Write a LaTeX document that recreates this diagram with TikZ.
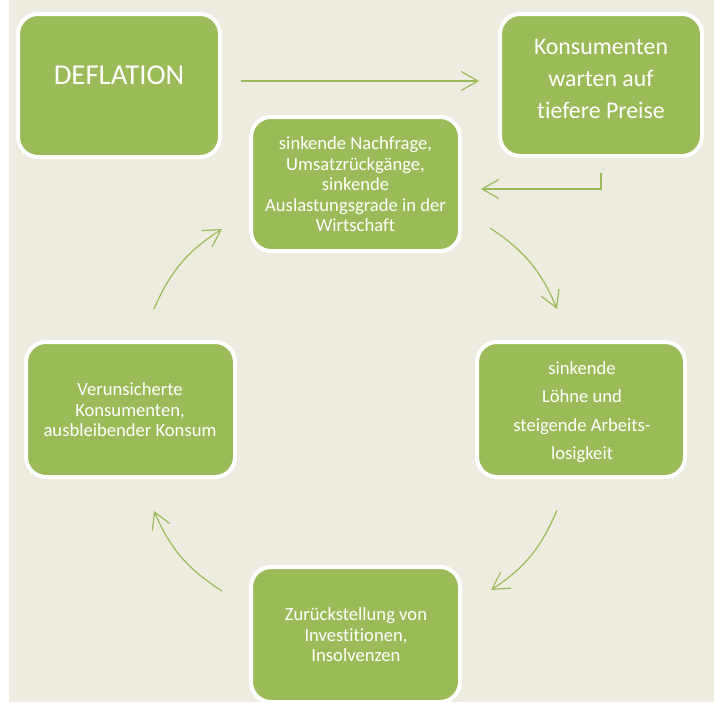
\documentclass[tikz,border=0pt]{standalone}
\usepackage{fontspec}
\setmainfont{Carlito}[Ligatures={NoCommon}]
\usetikzlibrary{arrows.meta}
\definecolor{bgtan}{HTML}{EEECE1}
\definecolor{olivegr}{HTML}{9BBB59}
\begin{document}
\begin{tikzpicture}[x=1pt,y=-1pt,
  box/.style={draw=white, line width=4pt, fill=olivegr, rounded corners=20pt, inner sep=0pt, outer sep=0pt},
  txt/.style={text=white, align=center, inner sep=0pt},
  arr/.style={draw=olivegr, line width=1.2pt, -{Straight Barb[length=16.5pt,width=19pt,line width=1.2pt]}},
]
\useasboundingbox (0,0) rectangle (714,702);
\fill[white] (0,0) rectangle (714,702);
\fill[bgtan] (9,0) rectangle (714,702);

\node[box, minimum width=202pt, minimum height=143pt] (defl) at (119,85.5) {};
\node[box, minimum width=202pt, minimum height=142pt] (kons) at (601,85) {};
\node[box, minimum width=209pt, minimum height=134pt] (nach) at (355.5,184) {};
\node[box, minimum width=208pt, minimum height=135pt] (loehne) at (581,409.5) {};
\node[box, minimum width=209pt, minimum height=135pt] (verun) at (130.5,409.5) {};
\node[box, minimum width=209pt, minimum height=135pt] (zur) at (355.5,634.5) {};

\node[txt, font=\fontsize{28.8}{34}\selectfont] (tdefl) at (119,75) {DEFLATION};
\node[txt, font=\fontsize{23.8}{32}\selectfont] (tkons) at (601,79) {Konsumenten\\warten auf\\tiefere Preise};
\node[txt, font=\fontsize{18.6}{20.5}\selectfont] (tnach) at (355.5,184.5) {sinkende Nachfrage,\\Umsatzrückgänge,\\sinkende\\Auslastungsgrade in der\\Wirtschaft};
\node[txt, font=\fontsize{18.6}{28.3}\selectfont] (tloehne) at (582,412) {sinkende\\Löhne und\\steigende Arbeits-\\losigkeit};
\node[txt, font=\fontsize{18.6}{20.5}\selectfont] (tverun) at (130,410) {Verunsicherte\\Konsumenten,\\ausbleibender Konsum};
\node[txt, font=\fontsize{18.6}{20.5}\selectfont] (tzur) at (356,634.7) {Zurückstellung von\\Investitionen,\\Insolvenzen};

\draw[arr] ([shift={(21,-4.5)}]defl.east) -- ([shift={(-21,-4)}]kons.west);
\draw[arr] ([shift={(0,17)}]kons.south) |- ([shift={(21,5)}]nach.east);
\draw[arr] ([shift={(30,44)}]nach.east) to[bend left=17] ([shift={(-24,-33)}]loehne.north);
\draw[arr] ([shift={(-24,33)}]loehne.south) to[bend left=17] ([shift={(31,-44.5)}]zur.east);
\draw[arr] ([shift={(-29,-43.5)}]zur.west) to[bend left=17] ([shift={(23.5,34)}]verun.south);
\draw[arr] ([shift={(23.5,-33)}]verun.north) to[bend left=17] ([shift={(-29,45)}]nach.west);
\end{tikzpicture}
\end{document}
